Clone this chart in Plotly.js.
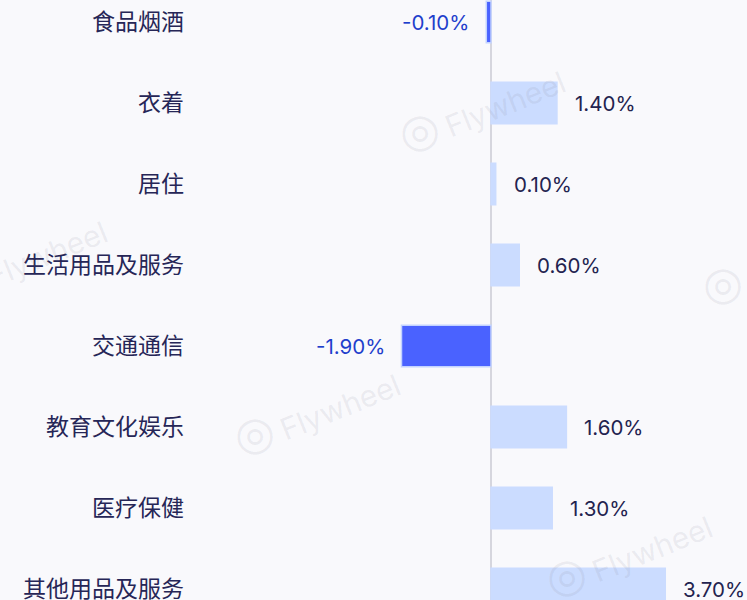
<!DOCTYPE html>
<html><head><meta charset="utf-8">
<script src="https://cdn.plot.ly/plotly-3.0.1.min.js"></script>
<style>html,body{margin:0;padding:0;background:#f9f9fc;}</style>
</head><body>
<div id="chart" style="width:747px;height:600px;"></div>
<script>
const categories = ['食品烟酒','衣着','居住','生活用品及服务','交通通信','教育文化娱乐','医疗保健','其他用品及服务'];
const values = [-0.10, 1.40, 0.10, 0.60, -1.90, 1.60, 1.30, 3.70];
const valueLabels = ['-0.10%','1.40%','0.10%','0.60%','-1.90%','1.60%','1.30%','3.70%'];

const posColor = '#cbdcff', negColor = '#4a62ff';
const font = "Inter, 'Noto Sans CJK SC', sans-serif";

const trace = {
  type: 'bar', orientation: 'h',
  x: values, y: categories,
  width: 0.51,
  marker: {
    color: values.map(v => v < 0 ? negColor : posColor),
    line: {color: values.map(v => v < 0 ? '#c3d3ff' : posColor), width: 1.5}
  },
  hoverinfo: 'skip'
};

const annotations = values.map((v, i) => ({
  x: v, y: categories[i], xref: 'x', yref: 'y',
  text: valueLabels[i], showarrow: false,
  xanchor: v < 0 ? 'right' : 'left',
  xshift: v < 0 ? -15 : 16,
  font: {family: font, size: 20.5, color: v < 0 ? '#1f3fcc' : '#23234f'}
}));

// watermark logos (page pixel positions); plot area starts at x=190, width 557
const PL = 190, PW = 557;
const logos = [[-38,280],[420,130],[255,433],[567,575],[723,283]];
logos.forEach(p => {
  annotations.push({
    x: (p[0]+85-PL)/PW, y: 1 - (p[1]-26)/600, xref: 'paper', yref: 'paper',
    xanchor: 'center', yanchor: 'middle',
    text: 'Flywheel', showarrow: false, textangle: -22,
    font: {family: 'Inter, sans-serif', size: 30, color: 'rgba(110,110,125,0.11)'}
  });
  annotations.push({
    x: (p[0]-PL)/PW, y: 1 - p[1]/600, xref: 'paper', yref: 'paper',
    xanchor: 'center', yanchor: 'middle',
    text: '◎', showarrow: false,
    font: {family: 'DejaVu Sans, sans-serif', size: 46, color: 'rgba(110,110,125,0.10)'}
  });
});

const layout = {
  width: 747, height: 600,
  margin: {l: PL, r: 0, t: 0, b: 0, pad: 0},
  paper_bgcolor: '#f9f9fc', plot_bgcolor: '#f9f9fc',
  showlegend: false,
  bargap: 0.49,
  xaxis: {
    range: [(PL-491)/47.1, (747-491)/47.1],
    showgrid: false, showticklabels: false, ticks: '',
    zeroline: true, zerolinecolor: '#d6d6de', zerolinewidth: 2
  },
  yaxis: {
    type: 'category', categoryorder: 'array', categoryarray: categories,
    range: [(600-22)/81, -22/81],
    showgrid: false, ticks: '', zeroline: false,
    ticklabelstandoff: 5,
    tickfont: {family: font, size: 23, color: '#262657'},
    automargin: false
  },
  annotations: annotations
};

Plotly.newPlot('chart', [trace], layout, {displayModeBar: false, staticPlot: true});
</script>
</body></html>
